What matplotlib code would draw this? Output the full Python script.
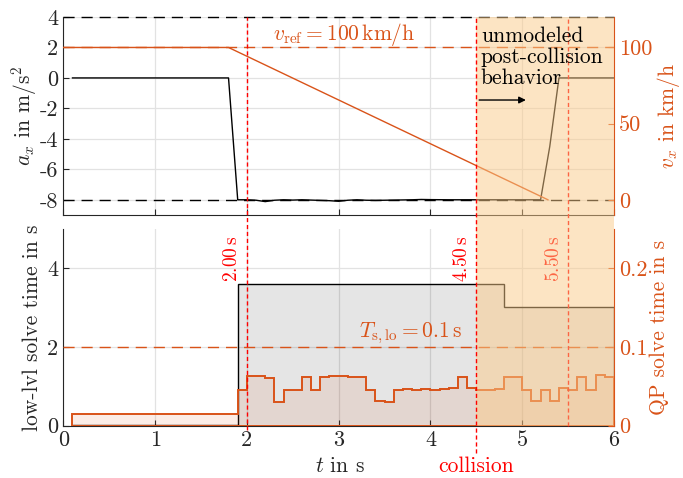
import numpy as np
import matplotlib.pyplot as plt
from matplotlib.lines import Line2D
from matplotlib.patches import Rectangle, FancyArrowPatch
from matplotlib.transforms import blended_transform_factory

plt.rcParams['font.family'] = 'serif'
plt.rcParams['font.serif'] = ['cmr10']
plt.rcParams['mathtext.fontset'] = 'cm'
plt.rcParams['axes.unicode_minus'] = False
plt.rcParams['axes.formatter.use_mathtext'] = True
plt.rcParams['font.size'] = 15.5
plt.rcParams['xtick.labelsize'] = 16
plt.rcParams['ytick.labelsize'] = 16

ORANGE = '#D95319'
RED = '#FF0000'
DARK = '#262626'
SHADE = '#FBCB89'
GRID = '#e2e2e2'

# top panel: acceleration (left) and velocity (right)
t_ax = [0.1, 1.8, 1.9, 2.0, 2.1, 2.2, 2.3, 2.4, 2.5, 2.6, 2.7, 2.8, 2.9, 3.0,
        3.1, 3.2, 3.3, 3.4, 3.5, 3.6, 3.7, 3.8, 3.9, 4.0, 4.2, 4.4, 4.6, 4.8,
        5.0, 5.2, 5.3, 5.4, 6.0]
a_x = [0, 0, -8, -8.0, -8.03, -8.12, -8.03, -8.0, -8.02, -8.0, -8.02, -8.04,
       -8.06, -8.1, -8.03, -8.0, -8.03, -8.04, -8.03, -8.02, -8.01, -8.0, -7.98,
       -7.99, -8.0, -8.0, -8.0, -8.0, -8.0, -8.0, -4.5, 0, 0]
t_vx = [0.0, 1.8, 5.28]
v_x = [100, 100, 0]
a_limits = [4, -8]
v_ref = 100
a_ticks = [4, 2, 0, -2, -4, -6, -8]
v_ticks = [0, 50, 100]

# bottom panel: solve times (step data, edges + values)
t_low = [0.1, 1.9, 4.8, 6.0]
low_time = [0.03, 3.59, 3.03]
t_qp = [0.1, 1.9, 2.0, 2.2, 2.3, 2.4, 2.6, 2.7, 2.8, 2.9, 3.1, 3.3, 3.4, 3.5,
        3.6, 3.7, 3.8, 3.9, 4.0, 4.1, 4.2, 4.3, 4.4, 4.5, 4.7, 4.8, 5.0, 5.1,
        5.2, 5.3, 5.4, 5.5, 5.6, 5.7, 5.8, 5.9, 6.0]
qp_time = [0.015, 0.046, 0.0634, 0.061, 0.030, 0.046, 0.062, 0.046, 0.062,
           0.0634, 0.062, 0.046, 0.032, 0.030, 0.0455, 0.047, 0.045, 0.0464,
           0.0455, 0.047, 0.048, 0.062, 0.0475, 0.046, 0.047, 0.062, 0.046,
           0.031, 0.046, 0.032, 0.0475, 0.0455, 0.0625, 0.0455, 0.064, 0.0625]
Ts_lo = 0.1
low_ticks = [0, 2, 4]
qp_ticks = [0, 0.1, 0.2]

t_events = [2.0, 4.5, 5.5]
event_labels = [r'$2.00\,\mathrm{s}$', r'$4.50\,\mathrm{s}$', r'$5.50\,\mathrm{s}$']
t_collision = 4.5
t_end = 6.0


def step_outline(edges, vals):
    x = np.repeat(edges, 2)
    y = np.concatenate([[0], np.repeat(vals, 2), [0]])
    return x, y


fig = plt.figure(figsize=(6.83, 4.78), dpi=100)
ax1 = fig.add_axes([0.0927, 0.5502, 0.8063, 0.4142])
ax2 = fig.add_axes([0.0927, 0.1094, 0.8063, 0.4115])
ax1r = ax1.twinx()
ax2r = ax2.twinx()

for ax in (ax1, ax2):
    ax.set_xlim(0, 6)
    ax.set_xticks(range(7))
    ax.grid(True, color=GRID, lw=0.9)
    ax.set_axisbelow(True)
    ax.tick_params(direction='in', length=4, colors=DARK, labelcolor=DARK)
    ax.spines['top'].set_visible(False)
    ax.spines['right'].set_visible(False)
    ax.spines['left'].set_color(DARK)
    ax.spines['bottom'].set_color(DARK)
for ax in (ax1r, ax2r):
    for s in ('top', 'left', 'bottom'):
        ax.spines[s].set_visible(False)
    ax.spines['right'].set_color(ORANGE)
    ax.tick_params(axis='y', direction='in', length=4, colors=ORANGE)

# top panel
ax1.set_ylim(-9, 4)
ax1.set_yticks(a_ticks, [str(v) for v in a_ticks])
ax1.tick_params(labelbottom=False)
for lim in a_limits:
    ax1.axhline(lim, color='k', ls=(0, (8, 5)), lw=1, clip_on=False)
ax1.plot(t_ax, a_x, color='k', lw=1)
ax1r.set_ylim(-10, 120)
ax1r.set_yticks(v_ticks, [str(v) for v in v_ticks])
ax1r.axhline(v_ref, color=ORANGE, ls=(0, (8, 5)), lw=1)
ax1r.plot(t_vx, v_x, color=ORANGE, lw=1)
ax1r.text(3.06, 105, r'$v_\mathrm{ref} = 100\,\mathrm{km/h}$', color=ORANGE,
          ha='center', va='baseline')
ax1.set_ylabel(r'$a_x$ in $\mathrm{m/s^2}$', color=DARK)
ax1.yaxis.set_label_coords(-0.044, 0.5)
ax1r.set_ylabel(r'$v_x$ in $\mathrm{km/h}$', color=ORANGE)
ax1r.yaxis.set_label_coords(1.0745, 0.5)

# bottom panel
ax2.set_ylim(0, 5)
ax2.set_yticks(low_ticks, [str(v) for v in low_ticks])
ax2.set_xticks(range(7), [str(v) for v in range(7)])
xl, yl = step_outline(t_low, low_time)
ax2.fill(xl, yl, facecolor=(0, 0, 0, 0.1), edgecolor='k', lw=1)
ax2r.set_ylim(0, 0.25)
ax2r.set_yticks(qp_ticks, ['0', '0.1', '0.2'])
xq, yq = step_outline(t_qp, qp_time)
ax2r.fill(xq, yq, facecolor=(0.85, 0.325, 0.098, 0.1), edgecolor=ORANGE, lw=1.4)
ax2r.axhline(Ts_lo, color=ORANGE, ls=(0, (8, 5)), lw=1)
ax2r.text(4.35, 0.112, r'$T_\mathrm{s,lo} = 0.1\,\mathrm{s}$', color=ORANGE,
          ha='right', va='baseline')
ax2.set_ylabel('low-lvl solve time in s', color=DARK)
ax2.yaxis.set_label_coords(-0.039, 0.5)
ax2r.set_ylabel('QP solve time in s', color=ORANGE)
ax2r.yaxis.set_label_coords(1.065, 0.5)
ax2.set_xlabel(r'$t$ in s', color=DARK)
ax2.xaxis.set_label_coords(0.502, -0.155)
ax2.text(t_collision, -0.155, 'collision', color=RED, ha='center', va='top',
         transform=ax2.get_xaxis_transform())

# event labels
ev_kw = dict(rotation=90, color=RED, ha='right', va='top', fontsize=14)
ax2.text(t_events[0] - 0.06, 4.82, event_labels[0], **ev_kw)
ax2.text(t_events[1] - 0.06, 4.82, event_labels[1], **ev_kw)
fig.text(t_events[2] - 0.06, 4.82, event_labels[2], transform=ax2.transData,
         zorder=1, **ev_kw)

# figure-level vertical markers and post-collision shading
tv = blended_transform_factory(ax2.transData, fig.transFigure)
y_top = 0.9644
line_bottoms = [0.1004, 0.0523, 0.1094]
line_z = [1, 3, 1]
for t, yb, z in zip(t_events, line_bottoms, line_z):
    fig.add_artist(Line2D([t, t], [yb, y_top], transform=tv, color=RED,
                          ls=(0, (3, 2)), lw=1, zorder=z))
fig.add_artist(Rectangle((t_collision, 0.1094), t_end - t_collision,
                         y_top - 0.1094, transform=tv, facecolor=SHADE,
                         alpha=0.5, edgecolor='none', zorder=2))
fig.text(4.55, 3.4, 'unmodeled\npost-collision\nbehavior', ha='left', va='top',
         transform=ax1.transData, zorder=4, linespacing=1.1)
fig.add_artist(FancyArrowPatch((4.5, -1.45), (5.07, -1.45), transform=ax1.transData,
                               arrowstyle='-|>', mutation_scale=10, color='k',
                               lw=1, zorder=4))

fig.savefig('out.png', dpi=100)
